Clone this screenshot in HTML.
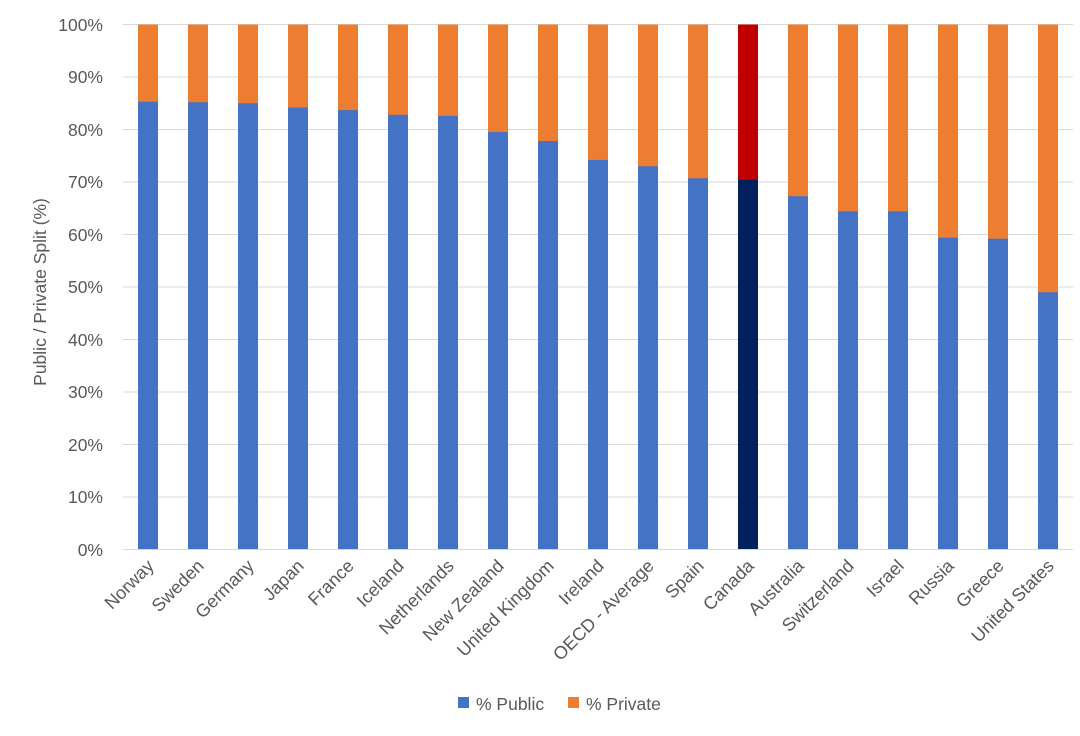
<!DOCTYPE html>
<html><head><meta charset="utf-8"><style>
body{margin:0;background:#fff}
svg text{font-family:"Liberation Sans","DejaVu Sans",sans-serif;fill:#595959}
</style></head><body>
<svg width="1080" height="731" xmlns="http://www.w3.org/2000/svg">
<g stroke="#d9d9d9" stroke-width="1">
<line x1="123" x2="1073" y1="24.5" y2="24.5"/><line x1="123" x2="1073" y1="77" y2="77"/>
<line x1="123" x2="1073" y1="129.5" y2="129.5"/><line x1="123" x2="1073" y1="182" y2="182"/>
<line x1="123" x2="1073" y1="234.5" y2="234.5"/><line x1="123" x2="1073" y1="287" y2="287"/>
<line x1="123" x2="1073" y1="339.5" y2="339.5"/><line x1="123" x2="1073" y1="392" y2="392"/>
<line x1="123" x2="1073" y1="444.5" y2="444.5"/><line x1="123" x2="1073" y1="497" y2="497"/>
</g>
<g font-size="17.5" text-anchor="end">
<text x="103" y="31">100%</text><text x="103" y="83">90%</text><text x="103" y="136">80%</text>
<text x="103" y="188">70%</text><text x="103" y="241">60%</text><text x="103" y="293">50%</text>
<text x="103" y="346">40%</text><text x="103" y="398">30%</text><text x="103" y="451">20%</text>
<text x="103" y="503">10%</text><text x="103" y="556">0%</text>
</g>
<text x="46" y="292" font-size="17.5" text-anchor="middle" transform="rotate(-90 46 292)">Public / Private Split (%)</text>
<g fill="#ed7d31">
<rect x="138" y="24.5" width="20" height="525"/><rect x="188" y="24.5" width="20" height="525"/>
<rect x="238" y="24.5" width="20" height="525"/><rect x="288" y="24.5" width="20" height="525"/>
<rect x="338" y="24.5" width="20" height="525"/><rect x="388" y="24.5" width="20" height="525"/>
<rect x="438" y="24.5" width="20" height="525"/><rect x="488" y="24.5" width="20" height="525"/>
<rect x="538" y="24.5" width="20" height="525"/><rect x="588" y="24.5" width="20" height="525"/>
<rect x="638" y="24.5" width="20" height="525"/><rect x="688" y="24.5" width="20" height="525"/>
<rect x="738" y="24.5" width="20" height="525" fill="#c00000"/><rect x="788" y="24.5" width="20" height="525"/>
<rect x="838" y="24.5" width="20" height="525"/><rect x="888" y="24.5" width="20" height="525"/>
<rect x="938" y="24.5" width="20" height="525"/><rect x="988" y="24.5" width="20" height="525"/>
<rect x="1038" y="24.5" width="20" height="525"/>
</g>
<g fill="#4472c4">
<rect x="138" y="101.7" width="20" height="447.8"/>
<rect x="188" y="102.2" width="20" height="447.3"/>
<rect x="238" y="103.25" width="20" height="446.25"/>
<rect x="288" y="107.45" width="20" height="442.05"/>
<rect x="338" y="110.1" width="20" height="439.4"/>
<rect x="388" y="114.8" width="20" height="434.7"/>
<rect x="438" y="115.85" width="20" height="433.65"/>
<rect x="488" y="132.1" width="20" height="417.4"/>
<rect x="538" y="141.05" width="20" height="408.45"/>
<rect x="588" y="159.95" width="20" height="389.55"/>
<rect x="638" y="166.25" width="20" height="383.25"/>
<rect x="688" y="178.3" width="20" height="371.2"/>
<rect x="738" y="179.9" width="20" height="369.6" fill="#002060"/>
<rect x="788" y="196.2" width="20" height="353.3"/>
<rect x="838" y="211.4" width="20" height="338.1"/>
<rect x="888" y="211.4" width="20" height="338.1"/>
<rect x="938" y="237.65" width="20" height="311.85"/>
<rect x="988" y="238.7" width="20" height="310.8"/>
<rect x="1038" y="292.25" width="20" height="257.25"/>
</g>
<line x1="123" x2="1073" y1="549.5" y2="549.5" stroke="#d9d9d9"/>
<g font-size="18" text-anchor="end">
<text x="155" y="567" transform="rotate(-45 155 567)">Norway</text>
<text x="205" y="567" transform="rotate(-45 205 567)">Sweden</text>
<text x="255" y="567" transform="rotate(-45 255 567)">Germany</text>
<text x="305" y="567" transform="rotate(-45 305 567)">Japan</text>
<text x="355" y="567" transform="rotate(-45 355 567)">France</text>
<text x="405" y="567" transform="rotate(-45 405 567)">Iceland</text>
<text x="455" y="567" transform="rotate(-45 455 567)">Netherlands</text>
<text x="505" y="567" transform="rotate(-45 505 567)">New Zealand</text>
<text x="555" y="567" transform="rotate(-45 555 567)">United Kingdom</text>
<text x="605" y="567" transform="rotate(-45 605 567)">Ireland</text>
<text x="655" y="567" transform="rotate(-45 655 567)">OECD - Average</text>
<text x="705" y="567" transform="rotate(-45 705 567)">Spain</text>
<text x="755" y="567" transform="rotate(-45 755 567)">Canada</text>
<text x="805" y="567" transform="rotate(-45 805 567)">Australia</text>
<text x="855" y="567" transform="rotate(-45 855 567)">Switzerland</text>
<text x="905" y="567" transform="rotate(-45 905 567)">Israel</text>
<text x="955" y="567" transform="rotate(-45 955 567)">Russia</text>
<text x="1005" y="567" transform="rotate(-45 1005 567)">Greece</text>
<text x="1055" y="567" transform="rotate(-45 1055 567)">United States</text>
</g>
<rect x="458" y="697" width="11" height="11" fill="#4472c4"/>
<text x="476" y="710" font-size="17.5">% Public</text>
<rect x="568" y="697" width="11" height="11" fill="#ed7d31"/>
<text x="586" y="710" font-size="17.5">% Private</text>
</svg>
</body></html>
